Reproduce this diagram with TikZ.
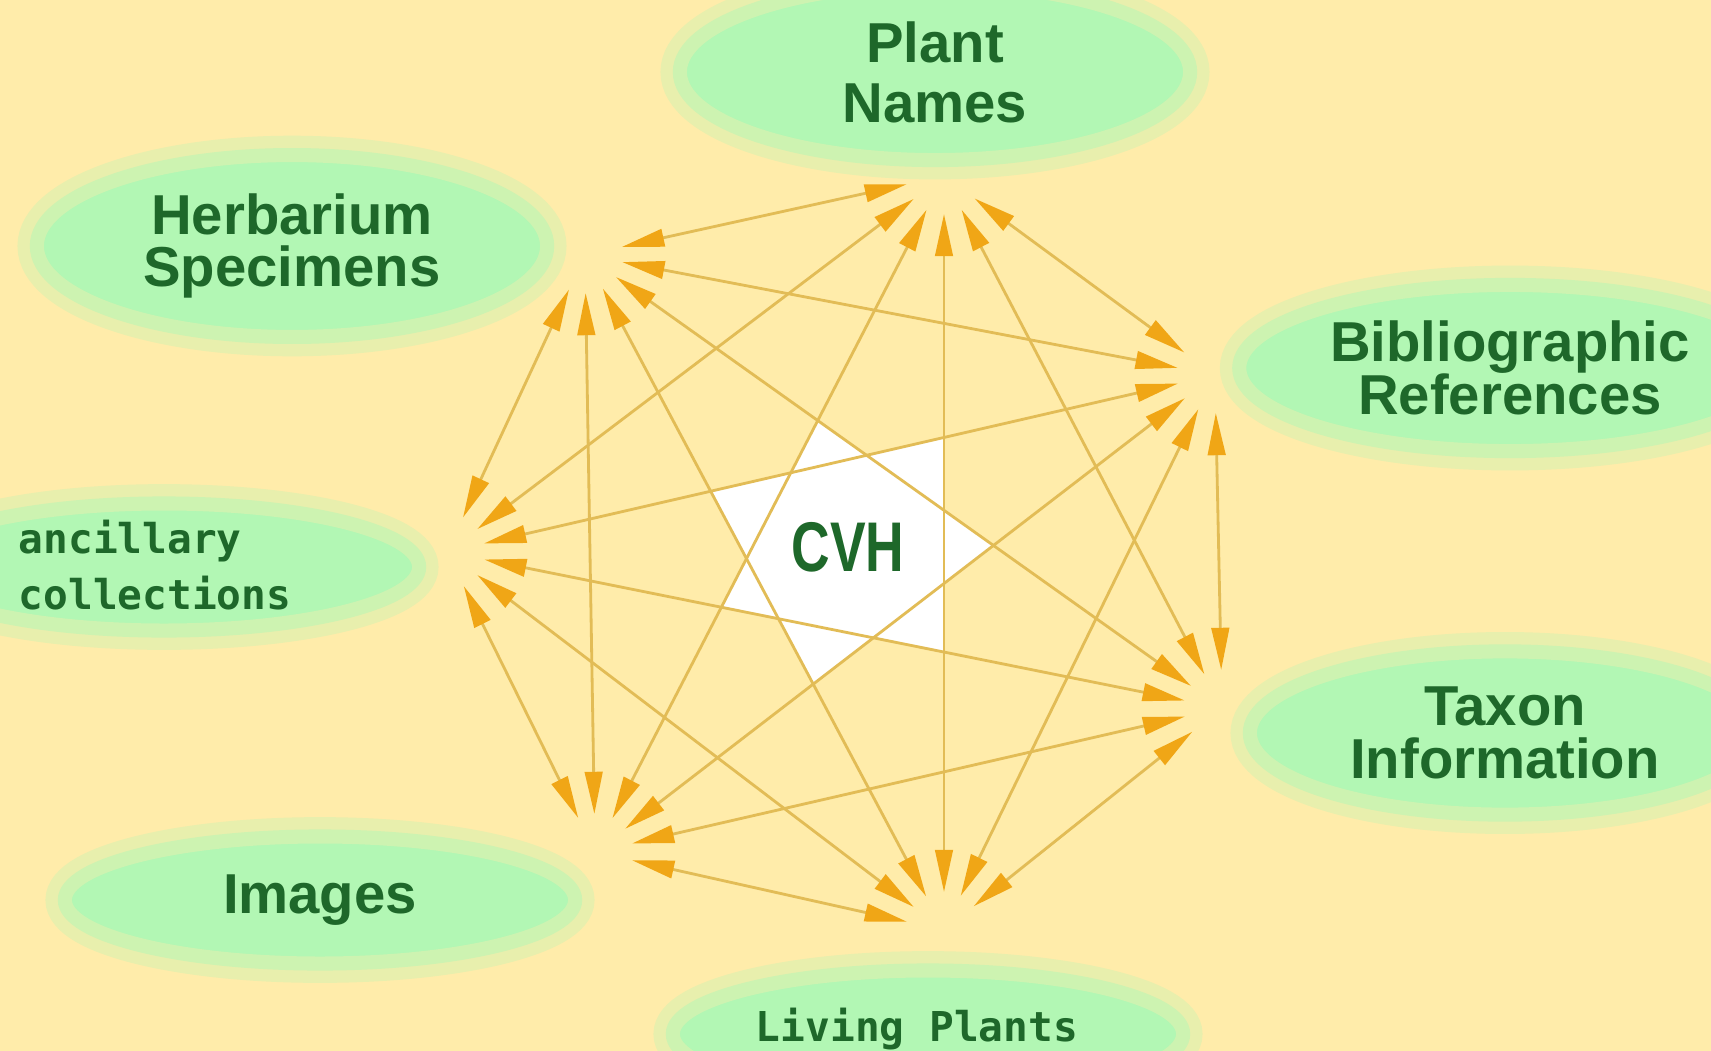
\documentclass[tikz,border=0pt]{standalone}
\usepackage{fontspec}
\setmainfont{Liberation Sans}
\newfontfamily\pixelmono{DejaVu Sans Mono}
\usetikzlibrary{arrows.meta,shapes.geometric}
\definecolor{paperyellow}{RGB}{255,236,170}
\definecolor{leafgreen}{RGB}{178,247,180}
\definecolor{inkgreen}{RGB}{30,104,42}
\definecolor{linktan}{RGB}{226,188,86}
\definecolor{tiporange}{RGB}{240,166,22}

\begin{document}
\begin{tikzpicture}[
    x=0.01cm, y=-0.01cm,
    blob/.style={ellipse, fill=leafgreen, draw=leafgreen!65!paperyellow, line width=4pt,
      preaction={draw=leafgreen!30!paperyellow, line width=11pt},
      minimum width=5.1cm, minimum height=1.27cm, align=center, text=inkgreen,
      font=\fontsize{16}{15}\selectfont\bfseries},
    monolbl/.style={font=\pixelmono\fontsize{11.7}{16}\selectfont\bfseries, text=inkgreen},
    link/.style={{Triangle[length=12pt,width=5pt,color=tiporange]}-{Triangle[length=12pt,width=5pt,color=tiporange]},
      line width=0.8pt, color=linktan, shorten >=0.38cm, shorten <=0.38cm},
]

% === Page ===
\useasboundingbox (0,0) rectangle (1711,1051);
\clip (0,0) rectangle (1711,1051);
\fill[paperyellow] (0,0) rectangle (1711,1051);

% === Source ellipses ===
\node[blob] (names) at (935,72) {Plant\\[2pt]Names};
\node[blob] (herb) at (292,246) {Herbarium\\Specimens};
\node[blob] (biblio) at (1510,368) {Bibliographic\\References};
\node[blob] (ancil) at (164,567) {};
\node[monolbl, align=left] (ancillbl) at (155,565) {ancillary\\collections};
\node[blob] (taxon) at (1505,733) {Taxon\\Information};
\node[blob] (img) at (320,900) {Images};
\node[blob] (living) at (928,1034) {};
\node[monolbl] (livinglbl) at (917,1029) {Living Plants};

% hub points next to each ellipse
\coordinate (Nhub) at (944,176);
\coordinate (Hhub) at (585,255);
\coordinate (Bhub) at (1215,375);
\coordinate (Thub) at (1222,708);
\coordinate (Lhub) at (944,930);
\coordinate (Ihub) at (595,852);
\coordinate (Ahub) at (447,552);

% === CVH star: inner heptagon of the long links, white ===
\coordinate (k1) at (intersection of Ihub--Nhub and Ahub--Bhub);
\coordinate (t1) at (intersection of Ihub--Nhub and Hhub--Thub);
\coordinate (k2) at (intersection of Ahub--Bhub and Hhub--Thub);
\coordinate (t2) at (intersection of Ahub--Bhub and Nhub--Lhub);
\coordinate (k3) at (intersection of Hhub--Thub and Nhub--Lhub);
\coordinate (t3) at (intersection of Hhub--Thub and Bhub--Ihub);
\coordinate (k4) at (intersection of Nhub--Lhub and Bhub--Ihub);
\coordinate (t4) at (intersection of Nhub--Lhub and Thub--Ahub);
\coordinate (k5) at (intersection of Bhub--Ihub and Thub--Ahub);
\coordinate (t5) at (intersection of Bhub--Ihub and Lhub--Hhub);
\coordinate (k6) at (intersection of Thub--Ahub and Lhub--Hhub);
\coordinate (t6) at (intersection of Thub--Ahub and Ihub--Nhub);
\coordinate (k7) at (intersection of Lhub--Hhub and Ihub--Nhub);
\coordinate (t7) at (intersection of Lhub--Hhub and Ahub--Bhub);
\fill[white] (k1) -- (t1) -- (k2) -- (t2) -- (k3) -- (t3) -- (k4) -- (t4)
    -- (k5) -- (t5) -- (k6) -- (t6) -- (k7) -- (t7) -- cycle;

% === Links: every source to every other ===
\draw[link] (Nhub) -- (Hhub);
\draw[link] (Nhub) -- (Bhub);
\draw[link] (Nhub) -- (Thub);
\draw[link] (Nhub) -- (Lhub);
\draw[link] (Nhub) -- (Ihub);
\draw[link] (Nhub) -- (Ahub);

\draw[link] (Hhub) -- (Bhub);
\draw[link] (Hhub) -- (Thub);
\draw[link] (Hhub) -- (Lhub);
\draw[link] (Hhub) -- (Ihub);
\draw[link] (Hhub) -- (Ahub);

\draw[link] (Bhub) -- (Thub);
\draw[link] (Bhub) -- (Lhub);
\draw[link] (Bhub) -- (Ihub);
\draw[link] (Bhub) -- (Ahub);

\draw[link] (Thub) -- (Lhub);
\draw[link] (Thub) -- (Ihub);
\draw[link] (Thub) -- (Ahub);

\draw[link] (Lhub) -- (Ihub);
\draw[link] (Lhub) -- (Ahub);

\draw[link] (Ihub) -- (Ahub);

% === Centre label ===
\node[text=inkgreen, inner sep=0pt] (cvh) at (848,547)
    {\fontsize{20}{20}\selectfont\bfseries\scalebox{0.76}[1]{CVH}};

\end{tikzpicture}
\end{document}
